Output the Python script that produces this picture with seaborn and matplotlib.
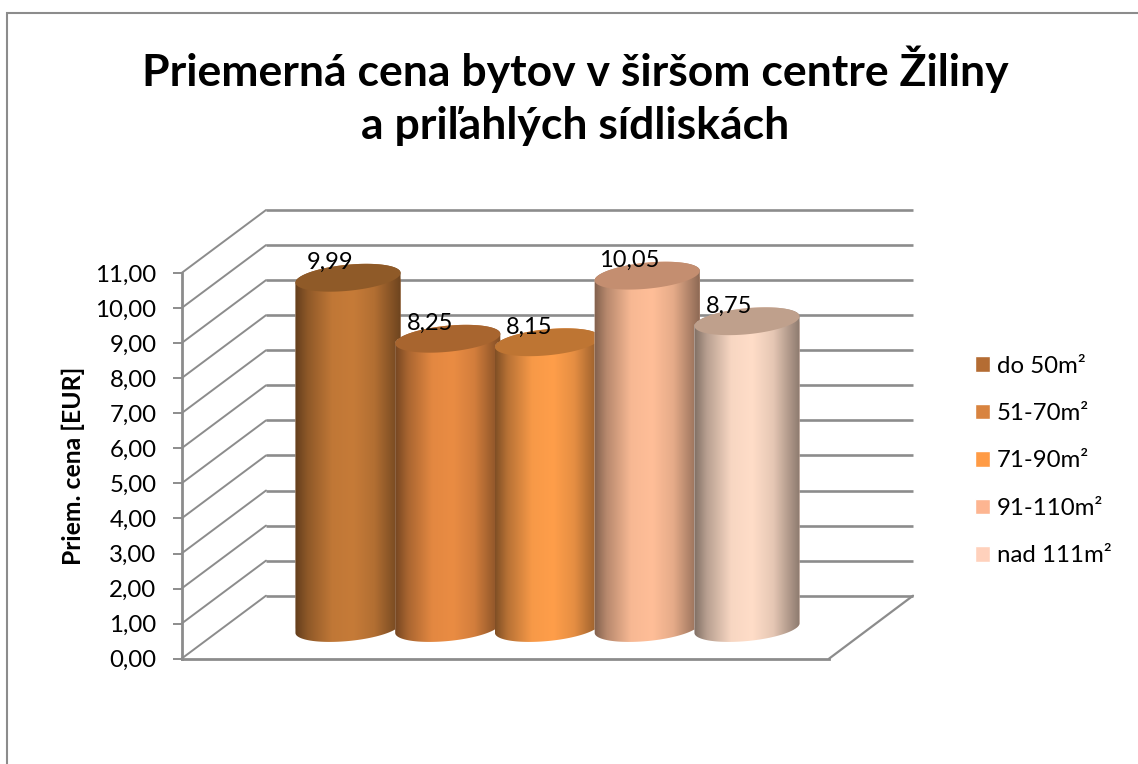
import numpy as np
import pandas as pd
import matplotlib
matplotlib.use("Agg")
import matplotlib.pyplot as plt
from matplotlib.lines import Line2D
from matplotlib.patches import Polygon
import seaborn as sns

# ---- data ----
size_labels = ["do 50m²", "51-70m²", "71-90m²", "91-110m²", "nad 111m²"]
prices = [9.99, 8.25, 8.15, 10.05, 8.75]
value_labels = ["9,99", "8,25", "8,15", "10,05", "8,75"]
y_ticks = list(range(0, 12))
y_tick_labels = [f"{t},00" for t in y_ticks]
title_text = "Priemerná cena bytov v širšom centre Žiliny\na priľahlých sídliskách"
y_label = "Priem. cena [EUR]"

# ---- colours ----
legend_colors = ["#B46C33", "#D8833F", "#FF9B45", "#FDB591", "#FFD1BC"]
body_colors = ["#C67B38", "#EA8C43", "#FF9E4A", "#FFBE98", "#FFDDC8"]
top_colors = ["#8F5A28", "#A8652F", "#BE7533", "#C48E70", "#BFA08C"]
shade_x = [0.0, 0.12, 0.35, 0.55, 0.75, 1.0]
shade_f = [0.50, 0.72, 0.97, 1.0, 0.90, 0.55]
grey = "#8C8C8C"

# ---- layout (pixels of the 1138x764 picture) ----
W, H = 1138, 764
PX_Y0, PX_PER_UNIT = 658.7, 35.06     # value axis
PX_X0, PX_PER_CAT = 348.0, 99.75      # category axis
WALL_LEFT, WALL_BACK, WALL_RIGHT, FLOOR_RIGHT = 181.5, 266.0, 913.0, 829.0
DEPTH_PX, BASE_PX = 63.0, 30.7
ELL_A, ELL_B, ELL_DEG = 52.8, 13.0, 5.6


def cx(px):
    return (px - PX_X0) / PX_PER_CAT


def ell(cat, value, n=180):
    """Tilted ellipse around a cylinder end, in data units."""
    t = np.linspace(0, 2 * np.pi, n, endpoint=False)
    th = np.radians(ELL_DEG)
    ex = ELL_A * np.cos(t) * np.cos(th) - ELL_B * np.sin(t) * np.sin(th)
    ey = ELL_A * np.cos(t) * np.sin(th) + ELL_B * np.sin(t) * np.cos(th)
    return np.column_stack([cat + ex / PX_PER_CAT, value + ey / PX_PER_UNIT])


sns.set_theme(style="white", rc={"font.family": ["Lato", "DejaVu Sans"]})
fig = plt.figure(figsize=(W / 100, H / 100), dpi=100, facecolor="white")
ax = fig.add_axes([0, 0, 1, 1], facecolor="none")

df = pd.DataFrame({"size": size_labels, "price": prices})
sns.barplot(data=df, x="size", y="price", hue="size", palette=legend_colors,
            hue_order=size_labels, dodge=False, width=ELL_A * 2 / PX_PER_CAT,
            saturation=1, ax=ax, legend=True, zorder=3)

xlim = (cx(0), cx(W))
ylim = (-(H - PX_Y0) / PX_PER_UNIT, PX_Y0 / PX_PER_UNIT)
base = BASE_PX / PX_PER_UNIT
depth = DEPTH_PX / PX_PER_UNIT

# back walls, side walls and floor
for t in y_ticks:
    ax.plot([cx(WALL_LEFT), cx(WALL_BACK)], [t, t + depth], color=grey, lw=1.4, zorder=1)
    ax.plot([cx(WALL_BACK), cx(WALL_RIGHT)], [t + depth, t + depth], color=grey, lw=1.9,
            zorder=1, solid_capstyle="butt")
ax.plot([cx(FLOOR_RIGHT), cx(WALL_RIGHT)], [0, depth], color=grey, lw=1.6, zorder=1)

# cylinders
grad_x = np.linspace(0, 1, 256)
shade = np.interp(grad_x, shade_x, shade_f)
bars = sorted([p for p in ax.patches if p.get_height() > 0], key=lambda p: p.get_x())
for i, (bar, value) in enumerate(zip(bars, prices)):
    bar.set_y(bar.get_y() + base)
    z = 3 + i
    bar.set_zorder(z)
    bottom, top = ell(i, base), ell(i, value + base)
    xl, xr = i - ELL_A / PX_PER_CAT, i + ELL_A / PX_PER_CAT
    # silhouette: lower half of the base ellipse + upper half of the top ellipse
    idx_r, idx_l = np.argmax(bottom[:, 0]), np.argmin(bottom[:, 0])
    lo = bottom[bottom[:, 1] < np.interp(bottom[:, 0], [bottom[idx_l, 0], bottom[idx_r, 0]],
                                         [bottom[idx_l, 1], bottom[idx_r, 1]])]
    up = top[top[:, 1] >= np.interp(top[:, 0], [top[idx_l, 0], top[idx_r, 0]],
                                    [top[idx_l, 1], top[idx_r, 1]])]
    lo = lo[np.argsort(lo[:, 0])]
    up = up[np.argsort(-up[:, 0])]
    sil = Polygon(np.vstack([lo, up]), closed=True, transform=ax.transData, fc="none", ec="none")
    ax.add_patch(sil)
    bar.set_clip_path(sil)
    rgb = np.array(matplotlib.colors.to_rgb(body_colors[i]))
    img = np.clip(shade[None, :, None] * rgb[None, None, :], 0, 1)
    im = ax.imshow(img, extent=(xl, xr, base - 1, value + base + 1), aspect="auto",
                   origin="lower", zorder=z, interpolation="bilinear")
    im.set_clip_path(sil)
    ax.add_patch(Polygon(top, closed=True, fc=top_colors[i], ec="none", zorder=z + 0.1))
    ax.annotate(value_labels[i], (i, value + base), xytext=(-18 * 0.72, 15 * 0.72),
                textcoords="offset points", ha="center", va="center",
                fontsize=17, color="black", zorder=20)

ax.set_xlim(xlim)
ax.set_ylim(ylim)

# axes
for s in ("top", "right"):
    ax.spines[s].set_visible(False)
ax.spines["left"].set_position(("data", cx(WALL_LEFT)))
ax.spines["left"].set_bounds(0, 11)
ax.spines["bottom"].set_position(("data", 0))
ax.spines["bottom"].set_bounds(cx(WALL_LEFT), cx(FLOOR_RIGHT))
for s in ("left", "bottom"):
    ax.spines[s].set_color(grey)
    ax.spines[s].set_linewidth(2.0)
    ax.spines[s].set_zorder(2)
ax.set_yticks(y_ticks)
ax.set_yticklabels(y_tick_labels, fontsize=17.3, color="black")
ax.tick_params(axis="y", left=True, length=6.5, width=1.4, color=grey, pad=11.5, direction="out")
ax.set_xticks([])
ax.set_xlabel("")
ax.set_ylabel(y_label, fontsize=17.8, fontweight="bold", color="black")
ax.yaxis.set_label_coords(85 / W, 1 - 466 / H)

# title
ax.text(575 / W, 1 - 96 / H, title_text, transform=ax.transAxes, ha="center", va="center",
        fontsize=32, fontweight="bold", color="black", linespacing=1.4)

# legend
handles = ax.get_legend().legend_handles
ax.legend(handles, size_labels, loc="center left", bbox_to_anchor=(975 / W, 1 - 461 / H),
          frameon=False, fontsize=17.3, handlelength=0.62, handleheight=0.62, handletextpad=0.3,
          labelspacing=1.1, borderpad=0, borderaxespad=0, labelcolor="black")

# chart frame: only the top and left edges lie inside the picture
fig.add_artist(Line2D([7 / W, 7 / W, 1], [0, 1 - 13 / H, 1 - 13 / H], transform=fig.transFigure,
                      color=grey, lw=1.5, solid_joinstyle="miter"))

fig.savefig("out.png", dpi=100, facecolor="white")
